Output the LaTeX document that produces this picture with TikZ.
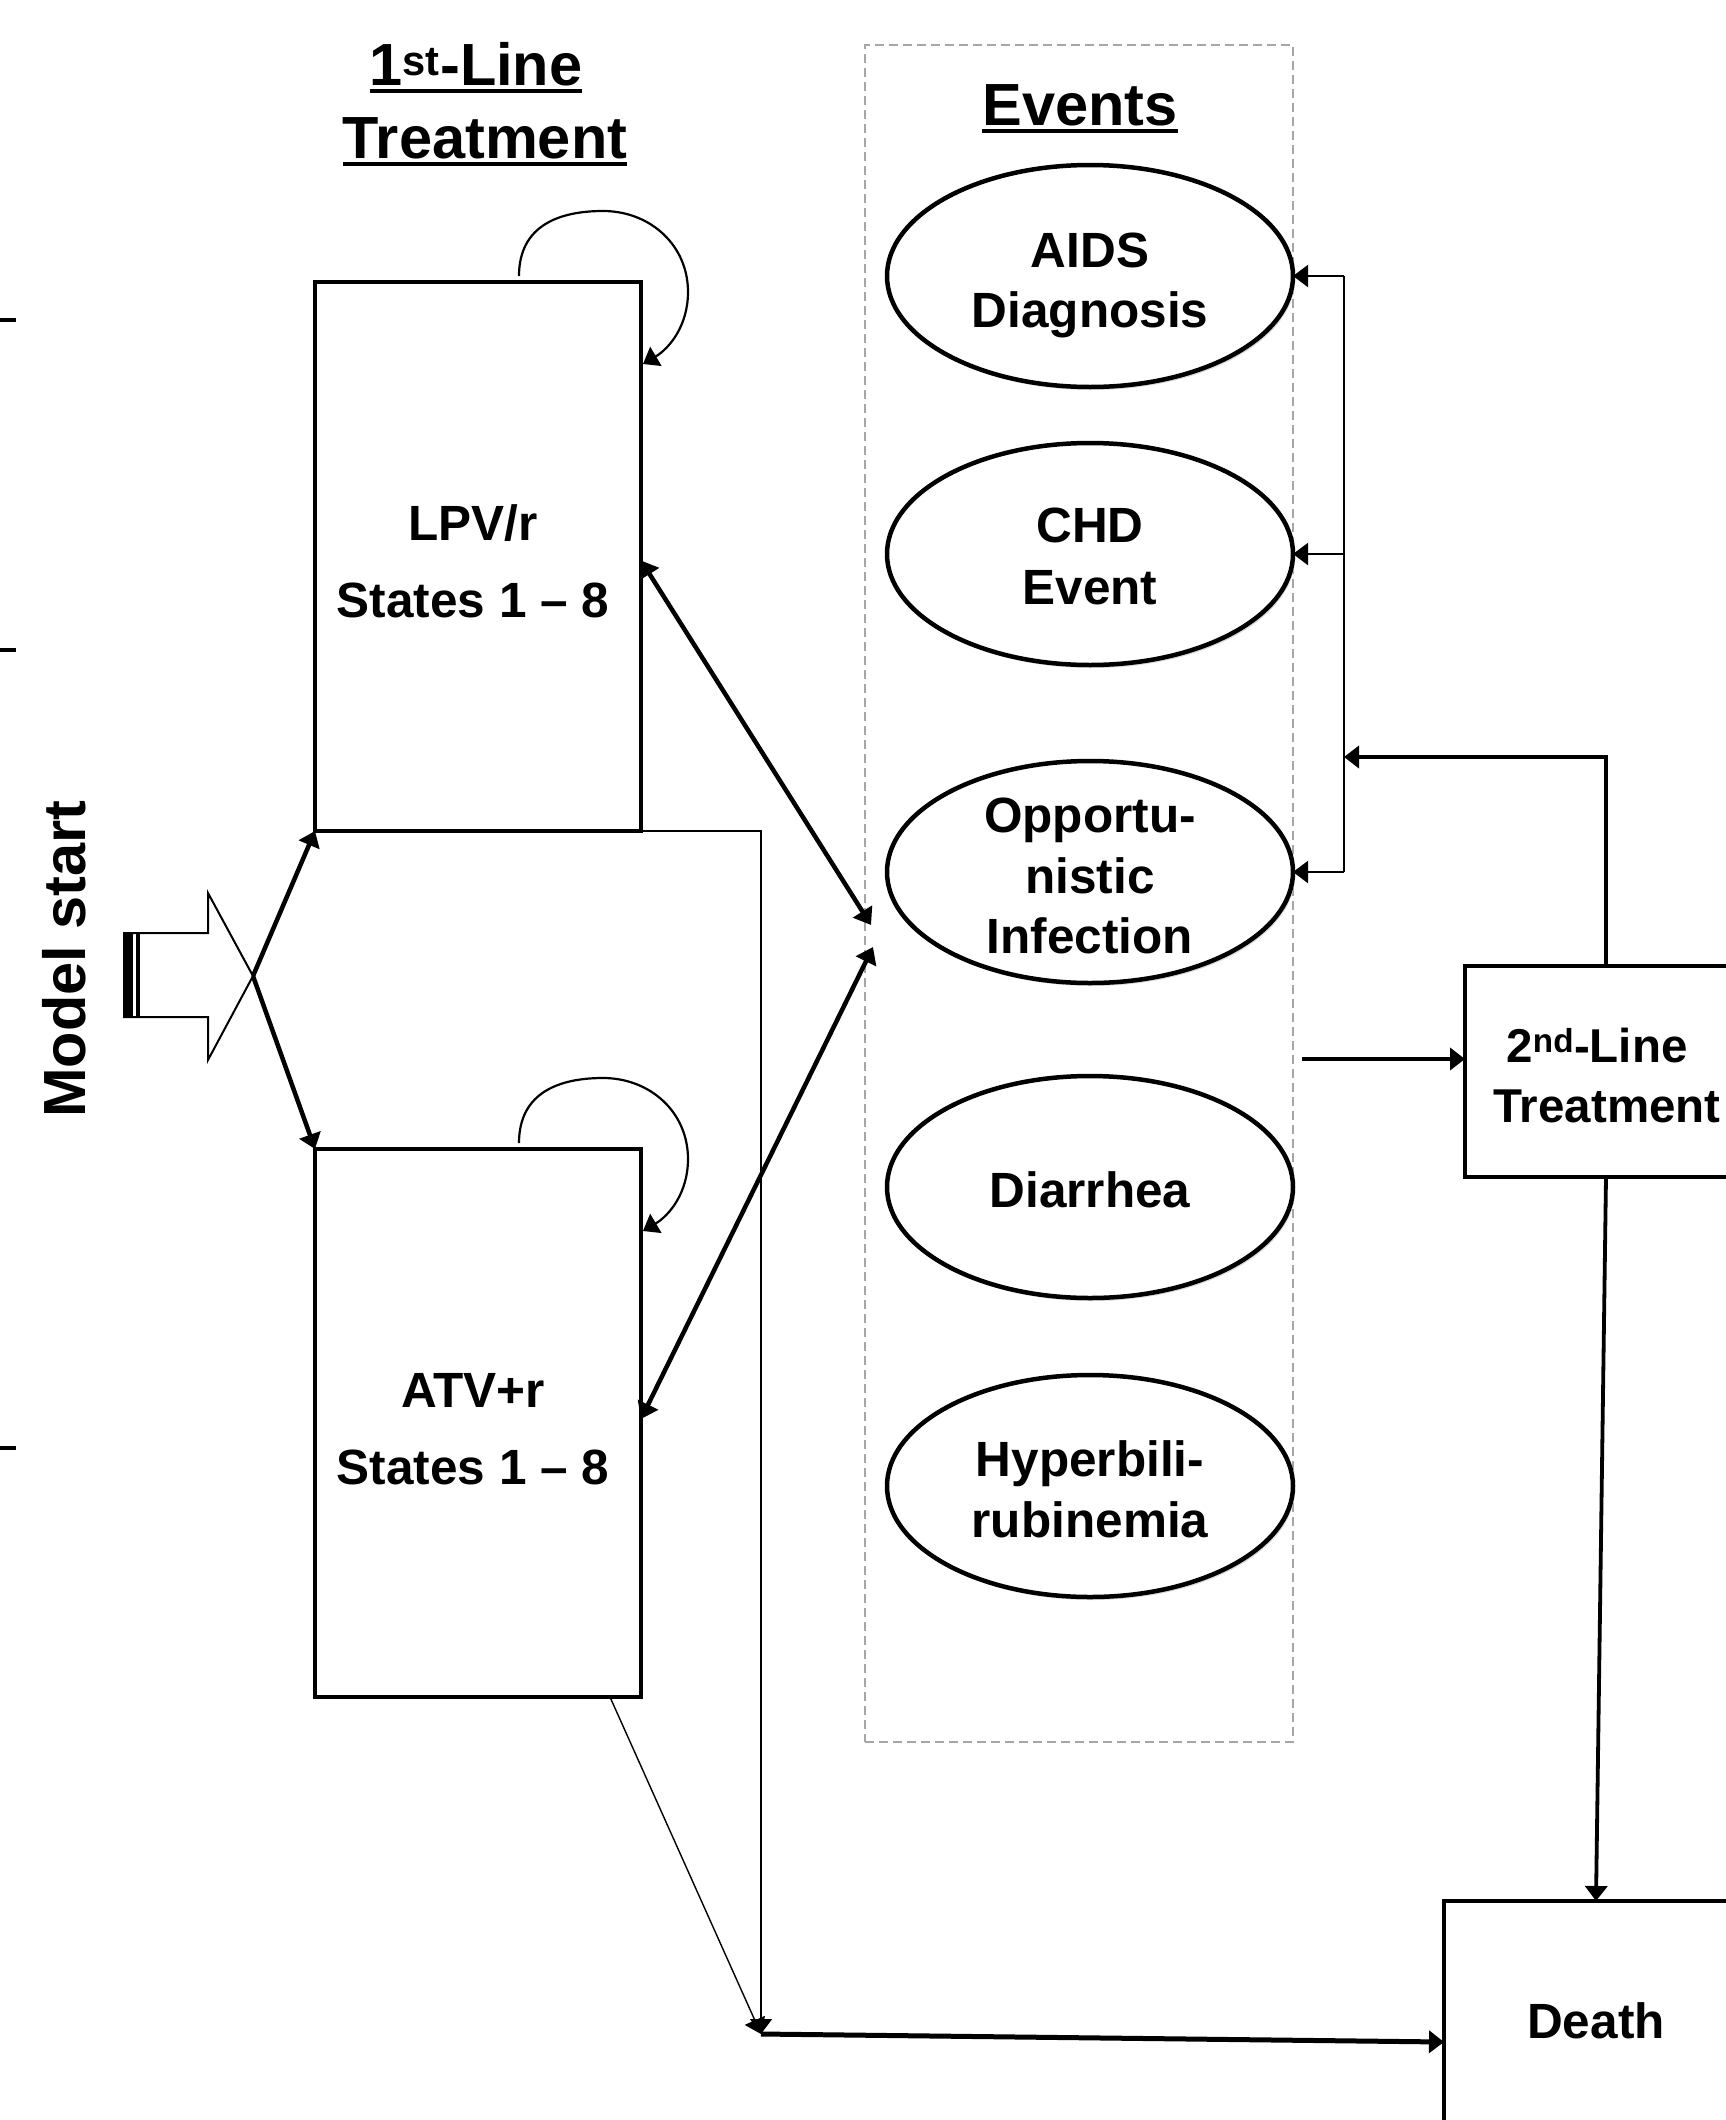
\documentclass[tikz,border=0pt]{standalone}
\usepackage{fontspec}
\setmainfont{Liberation Sans}
\usetikzlibrary{arrows.meta,calc,shadows,shapes.geometric}
\definecolor{dashgray}{HTML}{A6A6A6}
\begin{document}
\begin{tikzpicture}[x=1pt,y=-1pt,
  every node/.style={inner sep=0pt, outer sep=0pt},
  txt/.style={anchor=base, font=\bfseries\fontsize{49.5}{61}\selectfont},
  ttl/.style={anchor=base, font=\bfseries\fontsize{59.5}{73}\selectfont},
  stbox/.style={draw, line width=4.5pt, rectangle, minimum width=326pt, minimum height=549pt},
  sidebox/.style={draw, line width=4.5pt, rectangle, fill=white},
  ev/.style={draw, line width=4.5pt, ellipse, fill=white, minimum width=406pt, minimum height=222pt,
     drop shadow={shadow xshift=2pt, shadow yshift=-3pt, opacity=1, fill=black!15}},
  tipA/.style={-{Triangle[length=15pt,width=22pt]}},
  dtip/.style={{Triangle[length=16pt,width=22pt]}-{Triangle[length=16pt,width=22pt]}},
  thickln/.style={line width=4.5pt},
  thinln/.style={line width=2.2pt},
  vthinln/.style={line width=1.4pt},
  ul/.style={line width=3.5pt}
]
\fill[white] (0,0) rectangle (1726,2120);
\useasboundingbox (0,0) rectangle (1726,2120);

% left ticks
\draw[line width=4.5pt] (0,320) -- (16,320);
\draw[line width=4.5pt] (0,650) -- (16,650);
\draw[line width=4.5pt] (0,1448) -- (16,1448);

% titles
\node[ttl] (t1) at (476,85) {1\textsuperscript{st}-Line};
\node[ttl] (t2) at (485,158) {Treatment};
\draw[ul] ([yshift=-6pt]t1.base west) -- ([yshift=-6pt]t1.base east);
\draw[ul] ([yshift=-6pt]t2.base west) -- ([yshift=-6pt]t2.base east);
\node[ttl, rotate=90] (ms) at (85,959) {Model start};

% events dashed frame
\node[draw=dashgray, line width=2pt, dash pattern=on 9pt off 5pt, rectangle,
      minimum width=428pt, minimum height=1697pt] (evbox) at (1079,893.5) {};
\node[ttl] (evt) at (1080,125) {Events};
\draw[ul] ([yshift=-6pt]evt.base west) -- ([yshift=-6pt]evt.base east);

% first-line boxes
\node[stbox] (lpv) at (478,556.5) {};
\node[stbox, minimum height=548pt] (atv) at (478,1423) {};
\node[txt] (lpva) at (473,540) {LPV/r};
\node[txt] (lpvb) at (473,617) {States 1 – 8};
\node[txt] (atva) at (473,1407) {ATV+r};
\node[txt] (atvb) at (473,1484) {States 1 – 8};

% event ellipses
\node[ev] (aids) at (1090,276) {};
\node[ev] (chd) at (1090,554) {};
\node[ev] (oi) at (1090,872) {};
\node[ev] (dia) at (1090,1187) {};
\node[ev] (hyp) at (1090,1486) {};
\node[txt] (aidsa) at (1090,267) {AIDS};
\node[txt] (aidsb) at (1090,327) {Diagnosis};
\node[txt] (chda) at (1090,542) {CHD};
\node[txt] (chdb) at (1090,604) {Event};
\node[txt] (oia) at (1090,832) {Opportu-};
\node[txt] (oib) at (1090,893) {nistic};
\node[txt] (oic) at (1090,953) {Infection};
\node[txt] (diaa) at (1090,1207) {Diarrhea};
\node[txt] (hypa) at (1090,1476) {Hyperbili-};
\node[txt] (hypb) at (1090,1537) {rubinemia};

% second line and death
\node[sidebox, minimum width=282pt, minimum height=211pt] (sec) at (1606,1071.5) {};
\node[txt, font=\bfseries\fontsize{47.5}{60}\selectfont] (seca) at (1597,1062) {2\textsuperscript{nd}-Line};
\node[txt, font=\bfseries\fontsize{47.5}{60}\selectfont] (secb) at (1607,1122) {Treatment};
\node[sidebox, minimum width=304pt, minimum height=259pt] (death) at (1596,2030.5) {};
\node[txt] (deatht) at (1596,2038) {Death};

% model start block arrow
\draw[line width=2pt, fill=white, line join=miter] (124,933) -- (208,933) -- (208,893) -- (253,976)
   -- (208,1060) -- (208,1017) -- (124,1017) -- cycle;
\fill (123,932) rectangle (133,1018);
\draw[line width=3.5pt] (138,933) -- (138,1017);
\coordinate (tipM) at (253,976);
\draw[thickln, tipA] (tipM) -- (lpv.south west);
\draw[thickln, tipA] (tipM) -- (atv.north west);

% self loops
\foreach \b in {lpv,atv}{
  \draw[thinln, tipA] ($(\b.north)+(41,-6)$) .. controls ($(\b.north)+(41,-57)$) and ($(\b.north)+(82,-71)$) ..
    ($(\b.north)+(125,-71)$) .. controls ($(\b.north)+(172,-71)$) and ($(\b.north)+(210,-37)$) ..
    ($(\b.north)+(210,10)$) .. controls ($(\b.north)+(210,43)$) and ($(\b.north)+(192,66)$) ..
    ($(\b.north)+(165,82)$);
}

% double arrows to opportunistic infection
\coordinate (oiA) at (871,925);
\coordinate (oiB) at (873,947);
\draw[thickln, dtip] ([yshift=-4pt]lpv.east) -- (oiA);
\draw[thickln, dtip] ([yshift=4pt]atv.east) -- (oiB);

% bracket to events
\coordinate (brx) at (1344,0);
\draw[thinln] (aids.east -| brx) -- (oi.east -| brx);
\foreach \n in {aids,chd,oi}{
  \draw[thinln, tipA] (\n.east -| brx) -- (\n.east);
}
\coordinate (j2) at (1344,757);
\draw[thickln, tipA] (sec.north) |- (j2);
\coordinate (evOut) at (1302,1059);
\draw[thickln, tipA] (evOut) -- (evOut -| sec.west);
\draw[line width=3.8pt, tipA] (sec.south) -- (death.north);

% paths to death
\coordinate (merge) at (761,2034);
\draw[vthinln, tipA] (lpv.south east) -| (merge);
\draw[vthinln, tipA] ([xshift=132pt]atv.south) -- (merge);
\coordinate (dIn) at ([yshift=-11.5pt]death.west);
\draw[line width=5pt, tipA] (merge) -- (dIn);
\end{tikzpicture}
\end{document}
